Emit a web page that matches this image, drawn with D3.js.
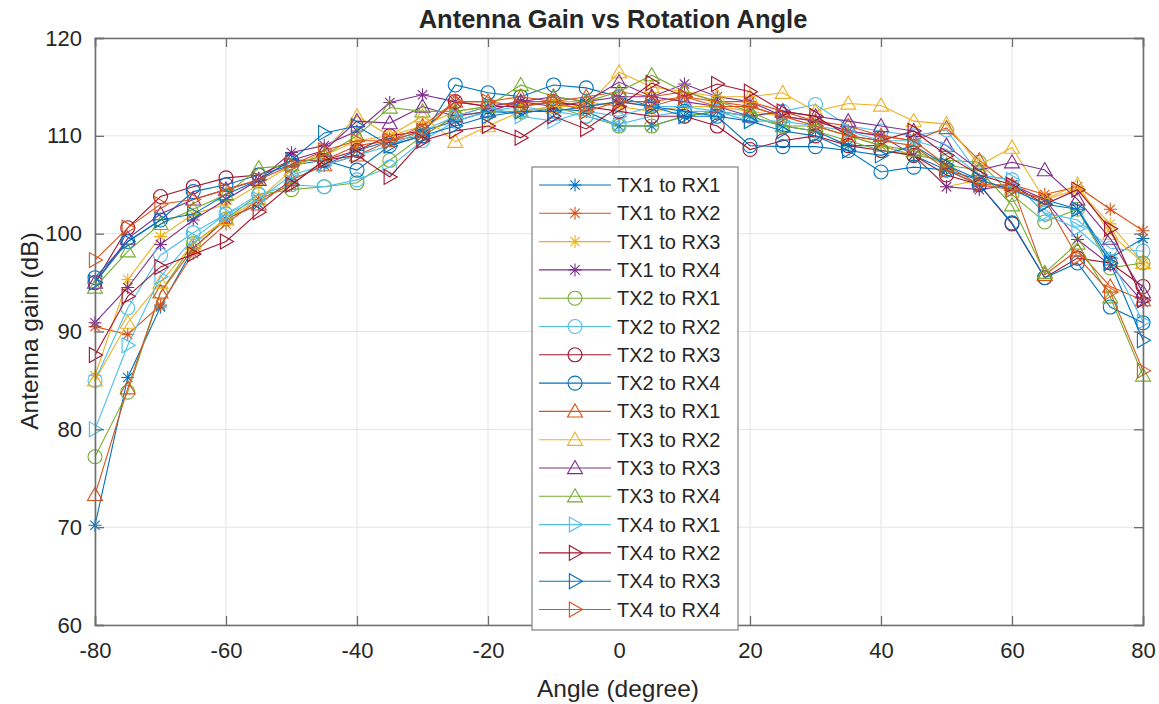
<!DOCTYPE html>
<html>
<head>
<meta charset="utf-8">
<script src="https://cdn.jsdelivr.net/npm/d3@7"></script>
<style>
  body { margin: 0; background: #fff; }
  text { font-family: "Liberation Sans", Arial, sans-serif; fill: #262626; }
</style>
</head>
<body>
<svg id="chart" width="1159" height="704"></svg>
<script>
// rotation angles (deg)
const angles = [-80,-75,-70,-65,-60,-55,-50,-45,-40,-35,-30,-25,-20,-15,-10,-5,0,5,10,15,20,25,30,35,40,45,50,55,60,65,70,75,80];

// gain per TX/RX pair (dB)
const tx1rx1 = [70.2,85.3,92.5,98.5,101.5,103,105.5,107,108.5,109.5,110.5,111.5,112.5,112.3,112.8,112.5,111,111,112,112.5,112,111,110.5,109,109,108,106.5,105.5,104.5,103.5,102.5,97.5,99.5];
const tx1rx2 = [90.5,89.7,92.7,98,101,103.5,105,107.5,109,109.5,110,112,113,113.5,113.5,113,113.5,113,114,113.5,113,112,111.5,110.5,110,109.5,107,105,105,104,104.8,102.5,100.3];
const tx1rx3 = [85.5,95.3,99.7,102,103,105,107,108,109.5,110,111,112.5,113,113,113.5,113.5,113,112.5,113,113,112.5,112,111,110,109,108,104.8,105.5,104.5,103.5,104.5,101,97];
const tx1rx4 = [90.9,94.5,98.9,101.4,103.5,105.5,108.3,109,110.5,113.4,114.2,113.5,113,113.5,113,113.5,114,114,115.3,114,113.5,112,111.5,110.5,110,108,104.8,104.5,105,103.5,99.4,96.8,93];
const tx2rx1 = [77.2,83.8,94,99,101.5,104,104.5,104.8,105.2,107.5,110,112,112.5,112.5,113,112,111,111,112,112.5,112,111,110.5,109.5,108.5,108,107.5,107.3,104,101.2,102.5,96.5,97];
const tx2rx2 = [85,92.4,97.8,100.1,102,104,105,104.8,105.5,106.8,109.5,111.5,112.5,113,112.5,112,111.2,112,112.5,112.5,112,112.5,113.2,111,110.5,110,110.6,106,105.5,102.1,101.4,98.5,98.2];
const tx2rx3 = [95,100.6,103.8,104.8,105.7,106,107.5,107.5,108.5,110,110.5,113.5,113,113,113.5,113,112.5,112,112,111,108.6,109.5,110,109,108.5,108,106,105,101,95.5,97.5,97,94.6];
const tx2rx4 = [95.5,99.2,101.4,104.3,105,106,107,107.5,106.5,109,110,115.2,114.4,114,115.2,114.9,114,113,112.5,112,109,108.9,108.9,108.5,106.3,106.8,106.5,105,101.1,95.5,97,92.5,90.9];
const tx3rx1 = [73.3,84.2,94,98.5,101.5,103,105.5,107,108,109.5,111,113.5,113.5,114,113.5,114,114.5,114,114.5,113.5,113.5,112.5,111.5,111,110,109.5,110.8,107.5,105,95.8,98.3,94.6,93.2];
const tx3rx2 = [85,90.9,95,99,101.5,103.5,106.5,108.5,112,110,112,109.4,111,112.5,113,113,116.5,115,114.5,114,114,114.4,112.5,113.3,113.1,111.5,111.2,107,108.8,103.5,105,100,97];
const tx3rx3 = [95,99.5,102,103.5,104.5,105.5,107.5,108.5,111.5,111.3,113,112,112.5,113.5,114,113.5,115.5,114,113.5,113,112,112.5,112,111.5,111,110.5,109,106.5,107.3,106.5,103.5,99.5,94];
const tx3rx4 = [94.5,98.2,101,102.5,104,106.7,107,108,110,112.9,112.5,112.5,113,115.2,114,113.5,114.5,116.2,114.5,113.5,112.5,111,111,110,109,108.5,107,106.5,102.9,96,99,93.5,85.5];
const tx4rx1 = [80,88.6,95.6,99.5,102,103.5,106,107,108,109,110.5,112,113,112,111.5,112.5,112,113,113,112.5,111.5,111.5,111,110.5,109.5,109.5,108.6,106,105.5,102,100.5,97.5,91];
const tx4rx2 = [87.6,93.6,96.6,97.9,99.2,102.2,105,107.5,108,105.8,109.5,110.5,111,109.8,112,110.7,113,115.4,114,115.3,114.5,112.5,112,110,109.5,110.5,108,106,105,103,104.5,100.5,93.2];
const tx4rx3 = [95,99.2,101.4,102,104,105.5,107.5,110.3,111,109,110,111,112,112.5,112.5,113,113.5,113,112,112,111.5,110.5,110,108.5,108,109,107,105.5,104.5,103,102.5,97,89.1];
const tx4rx4 = [97.3,100.6,103,103.5,104.5,105.5,107,108.5,109.5,109.5,110.5,113.5,113.5,113,113.5,112.5,113.5,113.5,114,113,113,112,111,110,109.5,109,106.5,105,104.5,103.5,97.6,94,86];

const seriesNames = ["TX1 to RX1","TX1 to RX2","TX1 to RX3","TX1 to RX4",
                     "TX2 to RX1","TX2 to RX2","TX2 to RX3","TX2 to RX4",
                     "TX3 to RX1","TX3 to RX2","TX3 to RX3","TX3 to RX4",
                     "TX4 to RX1","TX4 to RX2","TX4 to RX3","TX4 to RX4"];
const seriesValues = [tx1rx1,tx1rx2,tx1rx3,tx1rx4,tx2rx1,tx2rx2,tx2rx3,tx2rx4,
                      tx3rx1,tx3rx2,tx3rx3,tx3rx4,tx4rx1,tx4rx2,tx4rx3,tx4rx4];
const seriesMarkers = ["star","star","star","star","circle","circle","circle","circle",
                       "up","up","up","up","right","right","right","right"];

const xTicks = [-80,-60,-40,-20,0,20,40,60,80];
const yTicks = [60,70,80,90,100,110,120];

// matlab default colour order
const palette = ["#0072BD","#D95319","#EDB120","#7E2F8E","#77AC30","#4DBEEE","#A2142F"];

let chart = d3.select("#chart");
let margin = {left: 95, right: 1143, top: 38, bottom: 625};

let x = d3.scaleLinear().domain([-80,80]).range([margin.left, margin.right]);
let y = d3.scaleLinear().domain([60,120]).range([margin.bottom, margin.top]);

// grid
chart.append("g")
    .selectAll("line.gx").data(xTicks).enter().append("line")
        .attr("x1", d => x(d)).attr("x2", d => x(d))
        .attr("y1", margin.top).attr("y2", margin.bottom)
        .attr("stroke", "#e3e3e3").attr("stroke-width", 1);
chart.append("g")
    .selectAll("line.gy").data(yTicks).enter().append("line")
        .attr("x1", margin.left).attr("x2", margin.right)
        .attr("y1", d => y(d)).attr("y2", d => y(d))
        .attr("stroke", "#e3e3e3").attr("stroke-width", 1);

// marker shapes, matlab-ish
function markerPath(type, s){
    if (type == "circle") {
        return "M" + (-s) + ",0A" + s + "," + s + " 0 1,0 " + s + ",0A" + s + "," + s + " 0 1,0 " + (-s) + ",0Z";
    }
    if (type == "up") {
        return "M0," + (-s) + "L" + s + "," + (s*0.75) + "L" + (-s) + "," + (s*0.75) + "Z";
    }
    if (type == "right") {
        return "M" + s + ",0L" + (-s*0.75) + "," + (-s) + "L" + (-s*0.75) + "," + s + "Z";
    }
    // asterisk: vertical, horizontal and two diagonals
    let d = s * 0.72;
    return "M0," + (-s) + "V" + s + "M" + (-s) + ",0H" + s +
           "M" + (-d) + "," + (-d) + "L" + d + "," + d + "M" + (-d) + "," + d + "L" + d + "," + (-d);
}
function markerSize(type){
    if (type == "circle") return 7;
    if (type == "star") return 6.5;
    return 7.5;
}

let line = d3.line().x((d,i) => x(angles[i])).y(d => y(d));

let plot = chart.append("g");
seriesValues.forEach(function(vals, k){
    let col = palette[k % palette.length];
    let g = plot.append("g");
    g.append("path")
        .attr("d", line(vals))
        .attr("fill", "none")
        .attr("stroke", col)
        .attr("stroke-width", 1.1);
    g.selectAll("path.m").data(vals).enter().append("path")
        .attr("class", "m")
        .attr("transform", (d,i) => "translate(" + x(angles[i]) + "," + y(d) + ")")
        .attr("d", markerPath(seriesMarkers[k], markerSize(seriesMarkers[k])))
        .attr("fill", "none")
        .attr("stroke", col)
        .attr("stroke-width", 1.1);
});

// axes box + inward ticks on all sides
let axisCol = "#6e6e6e";
let fmt = d => String(d);
let xb = chart.append("g").attr("transform", "translate(0," + margin.bottom + ")")
    .call(d3.axisBottom(x).tickValues(xTicks).tickSize(-9).tickPadding(17).tickFormat(fmt));
let xt = chart.append("g").attr("transform", "translate(0," + margin.top + ")")
    .call(d3.axisTop(x).tickValues(xTicks).tickSize(-9).tickFormat(""));
let yl = chart.append("g").attr("transform", "translate(" + margin.left + ",0)")
    .call(d3.axisLeft(y).tickValues(yTicks).tickSize(-9).tickPadding(13).tickFormat(fmt));
let yr = chart.append("g").attr("transform", "translate(" + margin.right + ",0)")
    .call(d3.axisRight(y).tickValues(yTicks).tickSize(-9).tickFormat(""));
[xb, xt, yl, yr].forEach(function(a){
    a.selectAll(".domain").attr("stroke", axisCol).attr("stroke-width", 1.6);
    a.selectAll(".tick line").attr("stroke", axisCol).attr("stroke-width", 1.3);
    a.selectAll("text").attr("font-size", 22).attr("fill", "#262626")
        .attr("font-family", "Liberation Sans, Arial, sans-serif");
});

// titles
chart.append("text")
    .attr("x", 613).attr("y", 28)
    .attr("text-anchor", "middle")
    .attr("font-size", 25.5).attr("font-weight", "bold")
    .text("Antenna Gain vs Rotation Angle");
chart.append("text")
    .attr("x", 618).attr("y", 697)
    .attr("text-anchor", "middle")
    .attr("font-size", 24.5)
    .text("Angle (degree)");
chart.append("text")
    .attr("transform", "translate(38,331) rotate(-90)")
    .attr("text-anchor", "middle")
    .attr("font-size", 24.5)
    .text("Antenna gain (dB)");

// legend
let legend = chart.append("g").attr("transform", "translate(532,167)");
legend.append("rect")
    .attr("width", 206).attr("height", 463)
    .attr("fill", "#fff")
    .attr("stroke", "#8a8a8a").attr("stroke-width", 1.3);
let items = legend.selectAll("g.item").data(seriesNames).enter().append("g")
    .attr("transform", (d,i) => "translate(0," + (18 + i*28.3) + ")");
items.append("line")
    .attr("x1", 7).attr("x2", 79)
    .attr("stroke", (d,i) => palette[i % palette.length])
    .attr("stroke-width", 1.1);
items.append("path")
    .attr("transform", "translate(43,0)")
    .attr("d", (d,i) => markerPath(seriesMarkers[i], markerSize(seriesMarkers[i])))
    .attr("fill", "none")
    .attr("stroke", (d,i) => palette[i % palette.length])
    .attr("stroke-width", 1.1);
items.append("text")
    .attr("x", 85).attr("y", 7)
    .attr("font-size", 20)
    .text(d => d);
</script>
</body>
</html>
